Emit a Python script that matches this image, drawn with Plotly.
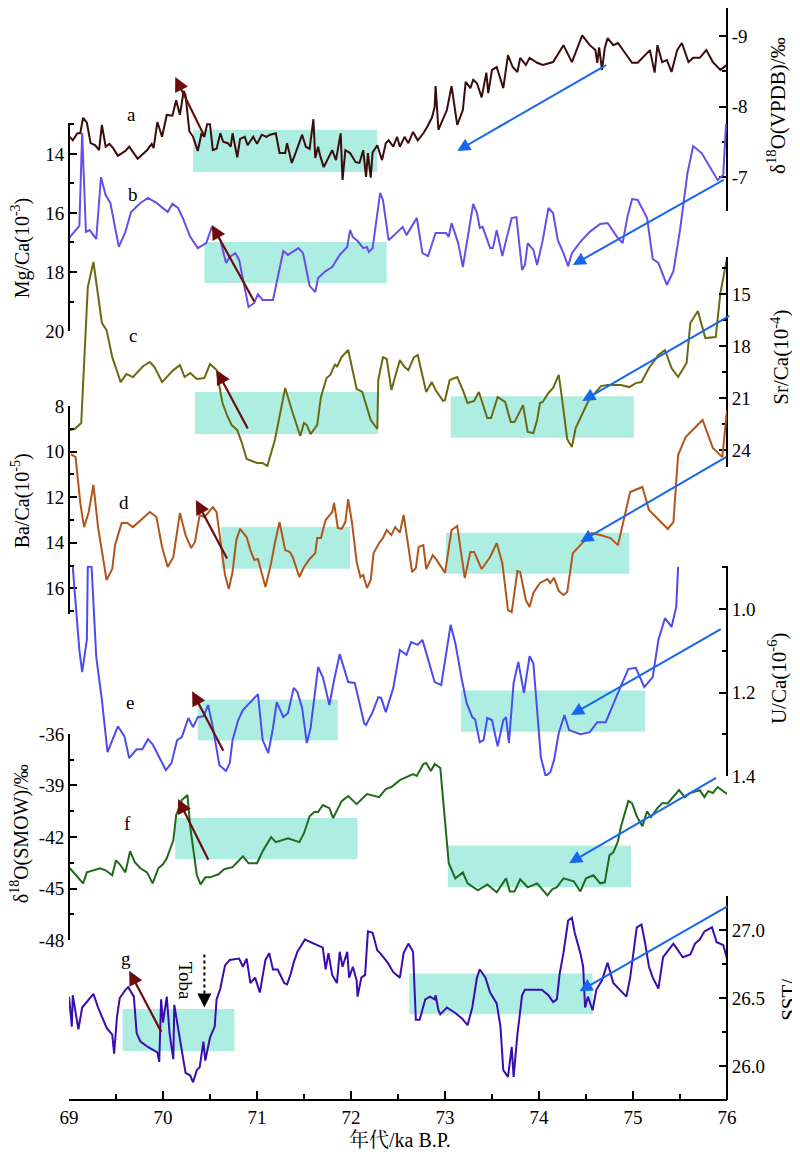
import plotly.graph_objects as go

# ============================================================
# DATA (ka B.P. / values)
# ============================================================

# a - stalagmite d18O (VPDB)
a_age = [69.01, 69.04, 69.09, 69.12, 69.15, 69.19, 69.23, 69.28, 69.32, 69.35, 69.39, 69.43, 69.47, 69.52,
         69.60, 69.64, 69.73, 69.83, 69.88, 69.90, 69.94, 69.99, 70.04, 70.10, 70.14, 70.18, 70.22, 70.24,
         70.28, 70.32, 70.37, 70.41, 70.44, 70.47, 70.50, 70.53, 70.57, 70.61, 70.64, 70.69, 70.72, 70.74,
         70.79, 70.82, 70.87, 70.90, 70.96, 71.00, 71.05, 71.10, 71.14, 71.20, 71.24, 71.30, 71.32, 71.37,
         71.41, 71.48, 71.52, 71.56, 71.60, 71.62, 71.65, 71.67, 71.71, 71.76, 71.80, 71.84, 71.89, 71.91,
         71.94, 71.99, 72.05, 72.09, 72.13, 72.16, 72.18, 72.21, 72.23, 72.28, 72.33, 72.37, 72.40, 72.45,
         72.49, 72.52, 72.57, 72.61, 72.66, 72.71, 72.77, 72.81, 72.86, 72.89, 72.90, 72.93, 72.98, 73.02,
         73.07, 73.13, 73.19, 73.22, 73.27, 73.30, 73.34, 73.39, 73.44, 73.46, 73.50, 73.55, 73.62, 73.67,
         73.72, 73.77, 73.80, 73.86, 73.90, 73.98, 74.04, 74.15, 74.26, 74.35, 74.46, 74.54, 74.60, 74.62,
         74.64, 74.67, 74.70, 74.73, 74.79, 74.84, 74.99, 75.05, 75.18, 75.23, 75.26, 75.31, 75.36, 75.41,
         75.47, 75.52, 75.59, 75.64, 75.71, 75.78, 75.85, 75.93, 76.00]
a_d18o = [-7.57, -7.52, -7.62, -7.62, -7.84, -7.77, -7.48, -7.45, -7.38, -7.74, -7.43, -7.47, -7.41, -7.30,
          -7.37, -7.43, -7.26, -7.38, -7.47, -7.41, -7.78, -7.57, -7.88, -7.87, -8.09, -7.88, -8.22, -8.16,
          -7.65, -7.57, -7.37, -7.62, -7.57, -7.75, -7.75, -7.38, -7.40, -7.62, -7.50, -7.48, -7.43, -7.62,
          -7.28, -7.54, -7.57, -7.45, -7.57, -7.47, -7.60, -7.57, -7.60, -7.62, -7.34, -7.34, -7.48, -7.20,
          -7.34, -7.60, -7.43, -7.40, -7.82, -7.27, -7.43, -7.31, -7.14, -7.27, -7.38, -7.24, -7.62, -6.96,
          -7.38, -7.34, -7.21, -7.20, -7.38, -7.00, -7.34, -6.99, -7.35, -7.45, -7.24, -7.48, -7.52, -7.43,
          -7.57, -7.43, -7.57, -7.48, -7.64, -7.52, -7.62, -7.71, -7.84, -7.99, -8.29, -7.67, -7.84, -7.95,
          -8.29, -7.74, -7.95, -8.35, -8.26, -8.38, -8.33, -8.13, -8.48, -8.19, -8.52, -8.56, -8.26, -8.73,
          -8.56, -8.49, -8.69, -8.59, -8.69, -8.62, -8.59, -8.63, -8.87, -8.63, -9.01, -8.87, -8.80, -8.62,
          -8.84, -8.52, -8.83, -8.97, -8.87, -8.90, -8.62, -8.62, -8.80, -8.48, -8.87, -8.63, -8.66, -8.49,
          -8.80, -8.90, -8.63, -8.69, -8.69, -8.80, -8.63, -8.52, -8.59]

# b - Mg/Ca (10^-3)
b_age = [69.00, 69.11, 69.14, 69.18, 69.22, 69.29, 69.34, 69.39, 69.44, 69.53, 69.60, 69.66, 69.76, 69.84,
         69.93, 70.05, 70.10, 70.16, 70.21, 70.29, 70.37, 70.46, 70.52, 70.61, 70.67, 70.71, 70.77, 70.81,
         70.91, 70.97, 71.01, 71.06, 71.17, 71.28, 71.33, 71.44, 71.49, 71.56, 71.62, 71.65, 71.73, 71.80,
         71.88, 71.96, 71.99, 72.02, 72.07, 72.13, 72.17, 72.19, 72.23, 72.31, 72.34, 72.40, 72.46, 72.52,
         72.55, 72.59, 72.70, 72.76, 72.82, 72.90, 72.95, 73.01, 73.04, 73.07, 73.14, 73.19, 73.30, 73.34,
         73.37, 73.40, 73.48, 73.51, 73.55, 73.61, 73.65, 73.71, 73.76, 73.82, 73.85, 73.88, 73.94, 73.98,
         74.04, 74.10, 74.15, 74.20, 74.26, 74.31, 74.35, 74.44, 74.54, 74.65, 74.73, 74.83, 74.89, 74.94,
         74.99, 75.05, 75.15, 75.21, 75.27, 75.36, 75.43, 75.50, 75.58, 75.64, 75.73, 75.90, 75.96, 75.99]
b_mgca = [16.85, 16.44, 13.29, 16.64, 16.58, 16.88, 14.78, 15.39, 15.66, 17.15, 16.64, 15.97, 15.66, 15.49,
          15.66, 15.97, 15.69, 15.83, 16.17, 16.81, 17.19, 17.02, 16.47, 16.92, 17.69, 17.49, 17.36, 17.59,
          19.19, 19.05, 18.75, 18.95, 18.95, 17.29, 17.42, 17.19, 17.36, 18.47, 18.68, 18.20, 17.97, 17.83,
          17.42, 17.15, 16.58, 16.81, 16.95, 17.19, 17.15, 17.32, 17.19, 15.32, 15.56, 16.92, 16.75, 16.58,
          16.47, 16.75, 16.17, 17.36, 17.46, 16.68, 16.68, 16.68, 16.81, 16.34, 17.02, 17.83, 15.69, 16.00,
          16.51, 16.47, 17.19, 17.19, 16.58, 17.46, 16.92, 16.17, 16.14, 17.93, 17.76, 17.02, 17.25, 17.76,
          16.92, 15.83, 16.00, 16.92, 17.36, 17.80, 17.36, 16.98, 16.64, 16.37, 16.34, 16.81, 17.02, 16.14,
          15.53, 15.56, 16.17, 17.56, 17.69, 18.44, 17.97, 16.58, 14.64, 13.73, 13.97, 14.88, 14.71, 12.98]

# c - Sr/Ca (10^-4)
c_age = [69.01, 69.06, 69.13, 69.18, 69.20, 69.26, 69.35, 69.40, 69.46, 69.55, 69.61, 69.68, 69.72, 69.79,
         69.86, 69.91, 69.99, 70.11, 70.18, 70.23, 70.29, 70.36, 70.44, 70.50, 70.57, 70.63, 70.68, 70.73,
         70.79, 70.84, 70.89, 71.00, 71.06, 71.11, 71.19, 71.30, 71.37, 71.46, 71.50, 71.53, 71.57, 71.64,
         71.68, 71.74, 71.78, 71.83, 71.85, 71.90, 71.97, 72.06, 72.12, 72.21, 72.28, 72.29, 72.34, 72.38,
         72.43, 72.52, 72.57, 72.61, 72.67, 72.71, 72.80, 72.86, 72.90, 72.98, 73.00, 73.05, 73.13, 73.19,
         73.24, 73.31, 73.36, 73.45, 73.49, 73.56, 73.64, 73.70, 73.74, 73.83, 73.88, 73.94, 73.98, 74.01,
         74.04, 74.10, 74.15, 74.21, 74.24, 74.30, 74.35, 74.39, 74.53, 74.66, 74.73, 74.87, 74.96, 75.03,
         75.09, 75.17, 75.27, 75.34, 75.41, 75.48, 75.57, 75.61, 75.69, 75.77, 75.88, 75.93, 75.97, 76.00]
c_srca = [22.85, 22.79, 22.44, 17.08, 14.60, 13.15, 16.67, 17.08, 18.64, 20.08, 19.62, 19.79, 19.56, 19.15,
          18.92, 19.21, 20.08, 19.39, 19.10, 19.79, 19.56, 19.90, 19.85, 19.04, 19.39, 21.23, 21.98, 22.56,
          22.85, 23.60, 24.52, 24.75, 24.75, 24.93, 23.42, 20.42, 21.69, 23.19, 22.44, 22.56, 23.08, 22.56,
          20.94, 19.85, 19.67, 19.04, 19.21, 18.64, 18.23, 20.48, 20.65, 22.27, 22.79, 19.96, 18.64, 18.75,
          20.54, 18.81, 19.21, 19.39, 18.64, 18.52, 20.65, 20.08, 20.54, 21.17, 21.12, 19.96, 19.79, 20.54,
          21.29, 21.17, 20.65, 22.16, 22.16, 20.94, 21.23, 22.39, 22.39, 21.41, 22.96, 23.02, 22.27, 21.29,
          21.23, 20.71, 20.42, 19.67, 20.83, 23.37, 23.83, 22.73, 21.12, 20.31, 20.25, 20.25, 20.37, 20.14,
          20.08, 19.27, 18.52, 18.23, 19.27, 19.79, 18.98, 16.67, 15.98, 17.54, 17.48, 14.94, 13.79, 12.95]

# d - Ba/Ca (10^-5)
d_age = [69.02, 69.07, 69.12, 69.16, 69.21, 69.26, 69.31, 69.36, 69.40, 69.46, 69.49, 69.56, 69.62, 69.68,
         69.76, 69.86, 69.93, 69.99, 70.05, 70.11, 70.18, 70.24, 70.30, 70.34, 70.39, 70.44, 70.48, 70.53,
         70.57, 70.62, 70.66, 70.70, 70.74, 70.78, 70.82, 70.89, 70.93, 70.97, 71.01, 71.09, 71.15, 71.19,
         71.24, 71.30, 71.35, 71.38, 71.45, 71.50, 71.56, 71.62, 71.64, 71.68, 71.73, 71.80, 71.82, 71.86,
         71.90, 71.94, 71.97, 72.01, 72.06, 72.10, 72.13, 72.17, 72.21, 72.24, 72.30, 72.34, 72.38, 72.43,
         72.47, 72.52, 72.56, 72.60, 72.65, 72.69, 72.72, 72.77, 72.80, 72.87, 72.91, 73.00, 73.07, 73.13,
         73.21, 73.27, 73.31, 73.39, 73.48, 73.55, 73.61, 73.67, 73.71, 73.77, 73.80, 73.86, 73.90, 73.94,
         74.01, 74.09, 74.12, 74.16, 74.21, 74.26, 74.30, 74.36, 74.47, 74.56, 74.65, 74.76, 74.84, 74.97,
         75.10, 75.17, 75.37, 75.43, 75.48, 75.56, 75.74, 75.85, 75.95, 76.00]
d_baca = [10.11, 10.24, 12.25, 13.31, 12.65, 11.46, 13.35, 14.62, 15.63, 15.15, 14.10, 13.13, 13.13, 13.31,
          13.00, 12.65, 12.87, 14.18, 15.06, 14.62, 12.69, 13.66, 14.23, 13.96, 12.78, 12.87, 12.69, 12.43,
          12.65, 14.18, 15.41, 16.03, 15.28, 13.88, 13.39, 13.75, 14.32, 14.75, 14.71, 15.94, 14.89, 14.01,
          13.09, 14.32, 14.40, 14.62, 15.50, 15.06, 14.71, 14.45, 13.79, 13.79, 13.00, 12.65, 12.25, 13.35,
          13.39, 13.09, 12.08, 13.09, 14.84, 15.50, 15.41, 15.98, 15.63, 14.45, 14.01, 13.79, 13.44, 13.66,
          13.31, 13.55, 12.78, 13.88, 15.28, 15.11, 14.18, 14.10, 15.15, 14.54, 14.75, 15.32, 13.44, 13.26,
          15.54, 14.40, 14.40, 15.15, 14.62, 14.01, 14.89, 16.95, 17.04, 15.24, 15.28, 16.51, 16.82, 16.20,
          15.76, 15.59, 15.76, 15.54, 16.11, 16.29, 16.16, 14.45, 13.96, 13.57, 13.66, 13.79, 14.10, 11.77,
          11.55, 12.56, 13.39, 13.09, 10.15, 9.36, 8.61, 9.84, 10.24, 8.18]

# e - U/Ca (10^-6)
e_age = [69.04, 69.11, 69.14, 69.19, 69.20, 69.24, 69.29, 69.35, 69.41, 69.47, 69.52, 69.59, 69.64, 69.72,
         69.78, 69.84, 69.89, 69.96, 70.03, 70.09, 70.15, 70.20, 70.27, 70.32, 70.37, 70.43, 70.48, 70.53,
         70.60, 70.67, 70.71, 70.74, 70.80, 70.85, 70.90, 71.01, 71.06, 71.12, 71.17, 71.21, 71.28, 71.33,
         71.39, 71.43, 71.48, 71.53, 71.57, 71.65, 71.70, 71.77, 71.82, 71.88, 71.97, 72.04, 72.14, 72.16,
         72.23, 72.29, 72.32, 72.37, 72.45, 72.52, 72.59, 72.64, 72.71, 72.76, 72.89, 72.96, 73.06, 73.11,
         73.18, 73.23, 73.29, 73.32, 73.37, 73.41, 73.45, 73.50, 73.56, 73.62, 73.65, 73.68, 73.73, 73.78,
         73.84, 73.90, 73.94, 73.98, 74.02, 74.07, 74.12, 74.16, 74.21, 74.27, 74.32, 74.44, 74.54, 74.62,
         74.71, 74.84, 74.95, 75.03, 75.12, 75.21, 75.27, 75.34, 75.41, 75.46, 75.48]
e_uca = [0.899, 1.098, 1.151, 1.074, 0.899, 0.899, 1.115, 1.218, 1.343, 1.307, 1.281, 1.305, 1.357, 1.336,
         1.336, 1.312, 1.324, 1.355, 1.386, 1.369, 1.314, 1.307, 1.261, 1.283, 1.259, 1.257, 1.230, 1.283,
         1.374, 1.388, 1.369, 1.314, 1.266, 1.242, 1.230, 1.204, 1.314, 1.345, 1.285, 1.223, 1.259, 1.249,
         1.189, 1.199, 1.237, 1.321, 1.285, 1.139, 1.163, 1.230, 1.170, 1.108, 1.175, 1.177, 1.273, 1.278,
         1.247, 1.211, 1.213, 1.247, 1.189, 1.098, 1.110, 1.079, 1.086, 1.074, 1.175, 1.182, 1.038, 1.082,
         1.170, 1.225, 1.259, 1.264, 1.319, 1.314, 1.261, 1.266, 1.329, 1.266, 1.259, 1.321, 1.177, 1.127,
         1.201, 1.113, 1.130, 1.235, 1.355, 1.400, 1.391, 1.362, 1.297, 1.254, 1.290, 1.300, 1.295, 1.271,
         1.271, 1.201, 1.144, 1.141, 1.187, 1.163, 1.074, 1.022, 1.043, 0.995, 0.899]

# f - ice core d18O (SMOW)
f_age = [69.01, 69.09, 69.15, 69.19, 69.33, 69.39, 69.46, 69.50, 69.54, 69.60, 69.65, 69.70, 69.76, 69.83,
         69.89, 69.95, 70.00, 70.04, 70.11, 70.14, 70.20, 70.26, 70.29, 70.36, 70.40, 70.45, 70.50, 70.59,
         70.65, 70.74, 70.85, 70.91, 71.00, 71.06, 71.15, 71.20, 71.33, 71.45, 71.50, 71.56, 71.61, 71.65,
         71.70, 71.77, 71.81, 71.90, 71.97, 72.06, 72.17, 72.30, 72.37, 72.43, 72.52, 72.66, 72.70, 72.77,
         72.80, 72.85, 72.89, 72.95, 73.04, 73.11, 73.19, 73.24, 73.35, 73.45, 73.55, 73.65, 73.69, 73.74,
         73.80, 73.88, 73.98, 74.09, 74.14, 74.19, 74.26, 74.37, 74.44, 74.50, 74.58, 74.65, 74.70, 74.75,
         74.79, 74.84, 74.87, 74.95, 74.99, 75.04, 75.10, 75.15, 75.19, 75.26, 75.31, 75.37, 75.49, 75.55,
         75.61, 75.71, 75.76, 75.80, 75.85, 75.90, 76.00]
f_d18o = [-43.82, -44.35, -44.70, -44.06, -43.82, -43.94, -44.23, -43.36, -43.59, -44.06, -42.83, -43.47,
          -43.82, -44.06, -44.70, -43.82, -43.59, -43.24, -42.19, -40.73, -39.85, -39.56, -41.43, -44.23,
          -44.76, -44.35, -44.35, -44.17, -43.88, -43.76, -43.12, -43.53, -43.53, -42.83, -42.01, -42.30,
          -42.07, -42.30, -41.78, -40.79, -40.55, -40.55, -40.14, -40.32, -40.90, -39.91, -39.62, -40.09,
          -39.50, -39.68, -39.21, -39.09, -38.69, -38.34, -38.45, -37.75, -37.69, -38.16, -37.75, -37.98,
          -43.53, -44.41, -44.06, -44.70, -45.11, -44.76, -45.22, -44.41, -45.17, -45.17, -44.46, -44.93,
          -44.70, -45.40, -45.05, -44.93, -44.41, -44.58, -45.17, -44.41, -44.23, -44.70, -44.64, -43.06,
          -42.89, -42.25, -41.43, -39.91, -40.03, -40.79, -41.37, -40.50, -40.85, -40.32, -40.03, -40.03,
          -39.27, -39.68, -39.44, -39.27, -39.68, -39.33, -39.44, -39.09, -39.50]

# g - SST
g_age = [69.00, 69.03, 69.04, 69.07, 69.10, 69.14, 69.26, 69.31, 69.34, 69.40, 69.46, 69.48, 69.51, 69.54,
         69.60, 69.63, 69.69, 69.72, 69.76, 69.84, 69.94, 69.96, 69.98, 70.00, 70.04, 70.07, 70.11, 70.12,
         70.16, 70.21, 70.24, 70.29, 70.32, 70.36, 70.39, 70.43, 70.45, 70.50, 70.55, 70.57, 70.61, 70.63,
         70.66, 70.71, 70.81, 70.85, 70.89, 70.93, 70.98, 71.03, 71.09, 71.13, 71.17, 71.22, 71.29, 71.32,
         71.36, 71.39, 71.43, 71.51, 71.60, 71.70, 71.73, 71.76, 71.80, 71.85, 71.88, 71.91, 71.96, 71.98,
         72.02, 72.06, 72.07, 72.11, 72.15, 72.18, 72.23, 72.28, 72.31, 72.39, 72.45, 72.52, 72.56, 72.61,
         72.66, 72.69, 72.73, 72.79, 72.84, 72.89, 72.90, 72.93, 72.95, 73.02, 73.11, 73.18, 73.24, 73.29,
         73.34, 73.37, 73.43, 73.48, 73.55, 73.59, 73.62, 73.67, 73.71, 73.73, 73.77, 73.82, 73.85, 73.94,
         74.03, 74.10, 74.15, 74.19, 74.22, 74.26, 74.31, 74.35, 74.38, 74.44, 74.47, 74.49, 74.52, 74.57,
         74.61, 74.67, 74.73, 74.79, 74.85, 74.93, 74.97, 75.00, 75.04, 75.09, 75.13, 75.17, 75.21, 75.27,
         75.32, 75.43, 75.53, 75.61, 75.66, 75.71, 75.76, 75.84, 75.89, 75.96, 76.00]
g_sst = [26.51, 26.29, 26.52, 26.39, 26.27, 26.43, 26.53, 26.43, 26.38, 26.28, 26.23, 26.09, 26.36, 26.50,
         26.56, 26.58, 26.51, 26.24, 26.18, 26.14, 26.10, 26.03, 26.49, 26.32, 26.51, 26.24, 26.05, 26.45,
         26.28, 26.07, 25.95, 25.93, 25.88, 25.97, 25.99, 26.18, 26.04, 26.21, 26.29, 26.49, 26.57, 26.64,
         26.74, 26.78, 26.79, 26.73, 26.79, 26.61, 26.65, 26.54, 26.78, 26.83, 26.71, 26.71, 26.61, 26.60,
         26.68, 26.76, 26.84, 26.93, 26.90, 26.87, 26.71, 26.83, 26.67, 26.61, 26.84, 26.73, 26.84, 26.65,
         26.73, 26.63, 26.51, 26.65, 26.67, 26.99, 26.98, 26.85, 26.83, 26.76, 26.69, 26.65, 26.83, 26.90,
         26.84, 26.34, 26.34, 26.49, 26.51, 26.49, 26.52, 26.41, 26.38, 26.43, 26.39, 26.35, 26.30, 26.43,
         26.65, 26.71, 26.65, 26.54, 26.46, 26.29, 25.97, 25.92, 26.14, 25.92, 26.23, 26.52, 26.56, 26.56,
         26.56, 26.52, 26.47, 26.49, 26.68, 26.83, 27.07, 27.09, 26.98, 26.83, 26.73, 26.43, 26.51, 26.41,
         26.56, 26.63, 26.76, 26.61, 26.57, 26.51, 26.65, 26.80, 27.02, 27.04, 26.90, 26.73, 26.65, 26.57,
         26.80, 26.90, 26.80, 26.82, 26.90, 26.93, 26.99, 27.02, 26.91, 26.89, 26.79]

# highlighted intervals per panel: (age start, age end, value 1, value 2)
boxes = {
    "a": [(70.32, 72.28, -7.67, -7.07)],
    "b": [(70.44, 72.38, 16.98, 18.37)],
    "c": [(70.34, 72.29, 20.65, 23.08), (73.06, 75.01, 20.90, 23.30)],
    "d": [(70.62, 71.99, 13.30, 15.14), (73.01, 74.96, 13.56, 15.36)],
    "e": [(70.37, 71.86, 1.217, 1.315), (73.17, 75.13, 1.195, 1.294)],
    "f": [(70.13, 72.07, -40.90, -43.30), (73.03, 74.98, -42.50, -44.93)],
    "g": [(69.57, 70.76, 26.42, 26.11), (72.62, 74.57, 26.68, 26.38)],
}

# arrows per panel: (tail age, tail value, head age, head value)
red_arrows = {
    "a": (70.44, -7.58, 70.13, -8.42),
    "b": (70.98, 19.05, 70.52, 16.41),
    "c": (70.91, 22.85, 70.57, 19.39),
    "d": (70.69, 14.75, 70.35, 12.12),
    "e": (70.65, 1.343, 70.31, 1.197),
    "f": (70.49, -43.41, 70.16, -39.79),
    "g": (69.99, 26.24, 69.64, 26.70),
}
blue_arrows = {
    "a": (74.73, -8.60, 73.13, -7.37),
    "b": (75.98, 14.85, 74.36, 17.76),
    "c": (76.04, 16.21, 74.46, 21.17),
    "d": (76.01, 10.19, 74.44, 13.96),
    "e": (75.95, 1.046, 74.34, 1.254),
    "f": (75.90, -38.51, 74.32, -43.53),
    "g": (76.02, 27.18, 74.43, 26.55),
}

letter_pos = {
    "a": (69.67, -7.88), "b": (69.68, 15.39), "c": (69.68, 17.37), "d": (69.59, 12.25),
    "e": (69.65, 1.223), "f": (69.62, -41.20), "g": (69.61, 26.79),
}

toba_age = 70.44

# ============================================================
# FIGURE
# ============================================================

SERIF = "Liberation Serif, Times New Roman, serif"
FONT = dict(family=SERIF, size=19, color="black")

panels = [
    # key, x, y, axis, colour
    ("a", a_age, a_d18o, "y", "#3a0c0c"),
    ("b", b_age, b_mgca, "y2", "#6a4de8"),
    ("c", c_age, c_srca, "y3", "#6b6a12"),
    ("d", d_age, d_baca, "y4", "#b0561c"),
    ("e", e_age, e_uca, "y5", "#4c4cee"),
    ("f", f_age, f_d18o, "y6", "#1f6b1c"),
    ("g", g_age, g_sst, "y7", "#3b0cb0"),
]

fig = go.Figure()

for key, xs, ys, ax, col in panels:
    fig.add_trace(go.Scatter(x=xs, y=ys, yaxis=ax, mode="lines",
                             line=dict(color=col, width=2), showlegend=False,
                             hoverinfo="skip"))

axref = {k: ax for k, _, _, ax, _ in panels}

shapes = []
for key, lst in boxes.items():
    for x0, x1, y0, y1 in lst:
        shapes.append(dict(type="rect", xref="x", yref=axref[key], x0=x0, x1=x1, y0=y0, y1=y1,
                           fillcolor="#aeeee2", line=dict(width=0), layer="below"))

# Toba dotted marker
shapes.append(dict(type="line", xref="x", yref="y7", x0=toba_age, x1=toba_age, y0=26.82, y1=26.52,
                   line=dict(color="black", width=2, dash="dot")))

annotations = []
for key, (tx, ty, hx, hy) in red_arrows.items():
    r = axref[key]
    annotations.append(dict(x=hx, y=hy, ax=tx, ay=ty, xref="x", yref=r, axref="x", ayref=r,
                            showarrow=True, arrowhead=2, arrowsize=1.3, arrowwidth=2.2,
                            arrowcolor="#6e0c0c", text=""))
for key, (tx, ty, hx, hy) in blue_arrows.items():
    r = axref[key]
    annotations.append(dict(x=hx, y=hy, ax=tx, ay=ty, xref="x", yref=r, axref="x", ayref=r,
                            showarrow=True, arrowhead=2, arrowsize=1.3, arrowwidth=2,
                            arrowcolor="#1767ee", text=""))

for key, (lx, ly) in letter_pos.items():
    annotations.append(dict(x=lx, y=ly, xref="x", yref=axref[key], text=key, showarrow=False,
                            font=FONT))

# Toba label and arrow head
annotations.append(dict(x=70.24, y=26.63, xref="x", yref="y7", text="Toba", textangle=90,
                        showarrow=False, font=FONT))
annotations.append(dict(x=toba_age, y=26.43, ax=toba_age, ay=26.52, xref="x", yref="y7",
                        axref="x", ayref="y7", showarrow=True, arrowhead=2, arrowsize=1.4,
                        arrowwidth=2, arrowcolor="black", text=""))

# axis titles (paper coordinates)
titles = [
    ("δ<sup>18</sup>O(VPDB)/‰", 1.076, 0.9103, 21),
    ("Mg/Ca(10<sup>-3</sup>)", -0.074, 0.7802, 20),
    ("Sr/Ca(10<sup>-4</sup>)", 1.080, 0.6804, 21),
    ("Ba/Ca(10<sup>-5</sup>)", -0.074, 0.5485, 20),
    ("U/Ca(10<sup>-6</sup>)", 1.076, 0.3864, 21),
    ("δ<sup>18</sup>O(SMOW)/‰", -0.074, 0.2436, 20),
    ("SST/", 1.094, 0.0916, 21),
]
for txt, px, py, sz in titles:
    annotations.append(dict(x=px, y=py, xref="paper", yref="paper", xanchor="center",
                            yanchor="middle", text=txt, textangle=-90, showarrow=False,
                            font=dict(family=SERIF, size=sz, color="black")))

annotations.append(dict(x=0.503, y=-0.0366, xref="paper", yref="paper", xanchor="center",
                        yanchor="middle", text="年代/ka B.P.", showarrow=False,
                        font=dict(family="Liberation Serif, Noto Serif CJK SC, Noto Sans CJK SC",
                                  size=20, color="black")))


def yax(domain, rng, side, tickvals, ticktext, minor_vals):
    return dict(domain=domain, range=rng, side=side, anchor="free",
                position=0 if side == "left" else 1, automargin=False,
                showline=True, linecolor="black", linewidth=2, mirror=False,
                ticks="inside", ticklen=7, tickwidth=2, tickcolor="black",
                tickvals=tickvals, ticktext=ticktext, tickfont=FONT,
                minor=dict(tickvals=minor_vals, ticks="inside", ticklen=4, tickwidth=2,
                           tickcolor="black"),
                showgrid=False, zeroline=False)


fig.update_layout(
    width=800, height=1159,
    margin=dict(l=61, r=81, t=0, b=67),
    paper_bgcolor="white", plot_bgcolor="rgba(0,0,0,0)",
    showlegend=False,
    font=FONT,
    xaxis=dict(range=[69, 76], anchor="free", position=0, automargin=False, showline=True,
               linecolor="black", linewidth=2, mirror="ticks", ticks="inside", ticklen=8,
               tickwidth=2, tickcolor="black", tickvals=[69, 70, 71, 72, 73, 74, 75, 76],
               tickfont=FONT,
               minor=dict(dtick=0.5, tick0=69, ticks="inside", ticklen=5, tickwidth=2,
                          tickcolor="black"),
               showgrid=False, zeroline=False),
    yaxis=yax([0.8141, 1.0], [-6.518, -9.397], "right", [-9, -8, -7], ["-9", "-8", "-7"],
              [-8.5, -7.5, -6.5]),
    yaxis2=yax([0.7042, 0.8947], [20, 12.95], "left", [14, 16, 18, 20], ["14", "16", "18", "20"],
               [13, 15, 17, 19]),
    yaxis3=yax([0.5797, 0.7720], [24.98, 12.86], "right", [15, 18, 21, 24],
               ["15", "18", "21", "24"], [13.5, 16.5, 19.5, 22.5]),
    yaxis4=yax([0.4451, 0.6355], [17.12, 8.0], "left", [8, 10, 12, 14, 16],
               ["8", "10", "12", "14", "16"], [9, 11, 13, 15, 17]),
    yaxis5=yax([0.2967, 0.4890], [1.4, 0.897], "right", [1.0, 1.2, 1.4], ["1.0", "1.2", "1.4"],
               [0.9, 1.1, 1.3]),
    yaxis6=yax([0.1465, 0.3352], [-48, -36], "left", [-36, -39, -42, -45, -48],
               ["-36", "-39", "-42", "-45", "-48"], [-37.5, -40.5, -43.5, -46.5]),
    yaxis7=yax([0.0, 0.1868], [25.75, 27.25], "right", [26.0, 26.5, 27.0], ["26.0", "26.5", "27.0"],
               [25.75, 26.25, 26.75, 27.25]),
    shapes=shapes,
    annotations=annotations,
)

fig.write_html("out.html")
